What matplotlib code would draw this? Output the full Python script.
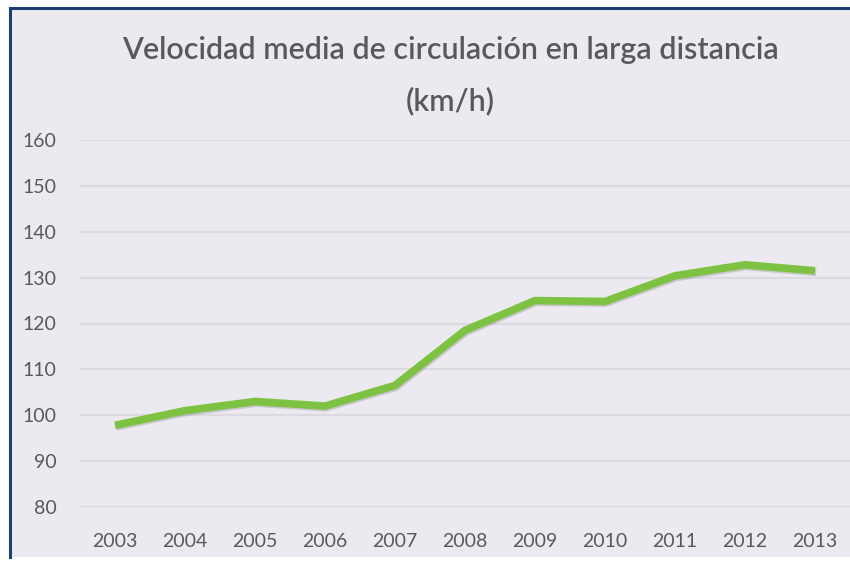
import numpy as np
import matplotlib
matplotlib.use('Agg')
import matplotlib.pyplot as plt
import matplotlib.patheffects as pe
from matplotlib.patches import Rectangle

# Data
years = [2003, 2004, 2005, 2006, 2007, 2008, 2009, 2010, 2011, 2012, 2013]
speed = [97.8, 101.0, 103.0, 102.0, 106.5, 118.5, 125.0, 124.8, 130.4, 132.8, 131.5]
y_ticks = [80, 90, 100, 110, 120, 130, 140, 150, 160]

title = 'Velocidad media de circulación en larga distancia\n(km/h)'

bg = '#ECEAF0'
text_color = '#595959'
border = '#1F3F70'

plt.rcParams['font.family'] = ['Lato', 'DejaVu Sans']

fig = plt.figure(figsize=(8.5, 5.69), dpi=100)
fig.patch.set_facecolor('white')

# Chart area background with dark blue frame on top/left
W, H = 850, 569
fig.patches.append(Rectangle((9 / W, (H - 557) / H), (W - 9) / W, 550 / H,
                             transform=fig.transFigure, facecolor=bg,
                             edgecolor='none', zorder=-10))
fig.lines.append(plt.Line2D([9.5 / W, 9.5 / W], [(H - 557) / H, (H - 8) / H],
                            transform=fig.transFigure, color=border, lw=2.2, zorder=10))
fig.lines.append(plt.Line2D([9.5 / W, 1.0], [(H - 8) / H, (H - 8) / H],
                            transform=fig.transFigure, color=border, lw=2.2, zorder=10))

ax = fig.add_axes([80 / W, (H - 507) / H, 770 / W, 367 / H])
ax.set_facecolor('none')

ax.plot(years, speed, color='#7DC242', lw=5.5, solid_capstyle='butt',
        solid_joinstyle='miter',
        path_effects=[pe.SimpleLineShadow(offset=(0.8, -1.2), shadow_color='#777777', alpha=0.3),
                      pe.Normal()], zorder=3)

ax.set_xlim(2002.5, 2013.5)
ax.set_ylim(80, 160)
ax.set_xticks(years)
ax.set_yticks(y_ticks)
ax.grid(axis='y', color='#DCDAE0', lw=1.6)
ax.set_axisbelow(True)
for s in ax.spines.values():
    s.set_visible(False)
ax.tick_params(axis='both', length=0, labelsize=14, labelcolor=text_color)
ax.tick_params(axis='y', pad=17)
ax.tick_params(axis='x', pad=19)

fig.text(450 / W, (H - 76) / H, title, ha='center', va='center',
         fontsize=22, fontweight='semibold', color=text_color, linespacing=1.95)

fig.savefig('out.png', dpi=100)
